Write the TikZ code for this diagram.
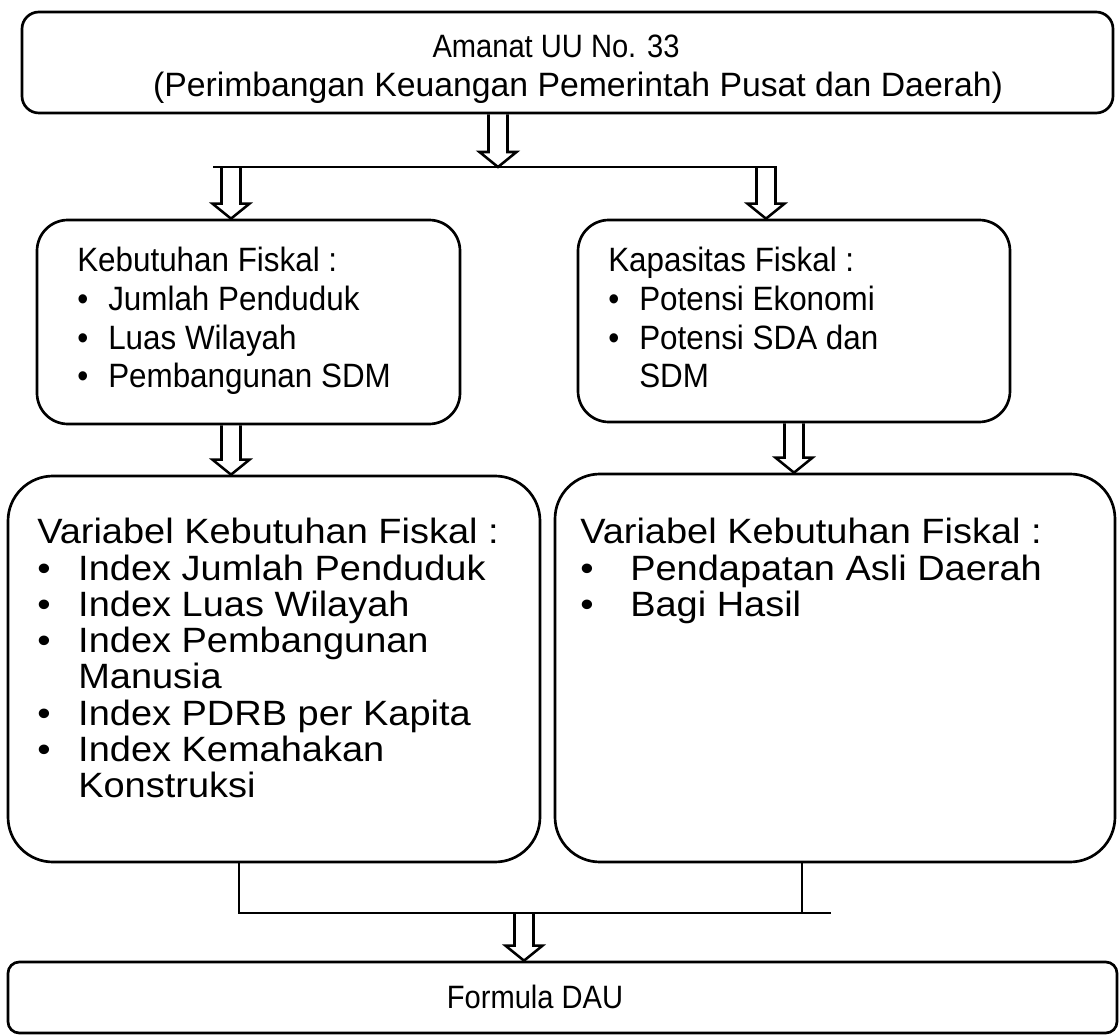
\documentclass[tikz,border=0pt]{standalone}
\usepackage{fontspec}
\setmainfont[FakeStretch=0.9]{Liberation Sans}
\newfontfamily\midface[FakeStretch=0.93]{Liberation Sans}
\newfontfamily\plainface[FakeStretch=1.0]{Liberation Sans}
\newfontfamily\wideface[FakeStretch=1.08]{Liberation Sans}
\usepackage{tikz}
\usetikzlibrary{positioning, fit, calc}

% hollow block arrow pointing down, from #1 to #2
\newcommand{\downarr}[2]{%
  \draw[hollow_arrow] ($(#1)+(-9.5,0)$) -- ($(#2)+(-9.5,-15)$) -- ($(#2)+(-18.5,-15)$)
    -- (#2) -- ($(#2)+(18.5,-15)$) -- ($(#2)+(9.5,-15)$) -- ($(#1)+(9.5,0)$);}
\newcommand{\itm}[2][31]{\makebox[#1\unitlength][l]{\textbullet}#2}
\newcommand{\cnt}[2][31]{\hspace*{#1\unitlength}#2}

\begin{document}
\setlength{\unitlength}{0.025cm}
\begin{tikzpicture}[
    x=0.025cm, y=-0.025cm,
    % Styles
    box/.style={
      rectangle, draw, line width=1.9pt, inner sep=0pt
    },
    hollow_arrow/.style={
      line width=1.8pt, line join=miter
    },
    link/.style={
      line width=1.9pt
    },
    need_text/.style={
      anchor=north west, inner sep=0pt, align=left,
      font=\midface\fontsize{24}{27.5}\selectfont
    },
    var_text/.style={
      anchor=north west, inner sep=0pt, align=left,
      font=\wideface\fontsize{25}{25.8}\selectfont
    }
  ]
  \useasboundingbox (0,0) rectangle (1120,1036);

  % --- 1. NODES ---

  % Amanat box
  \node[box, rounded corners=12pt, fit={(22,12) (1113,113)}] (amanat) {};
  \node[font=\fontsize{23}{26}\selectfont, anchor=base] (amanat_t1) at (556,58) {Amanat UU No. 33};
  \node[font=\fontsize{24}{26}\selectfont\plainface, anchor=base] (amanat_t2) at (578,97) {(Perimbangan Keuangan Pemerintah Pusat dan Daerah)};

  % Fiscal needs / capacity
  \node[box, rounded corners=22pt, fit={(37,220) (460,424)}] (keb) {};
  \node[need_text] (keb_text) at (77,247) {Kebutuhan Fiskal :\\
    \itm{Jumlah Penduduk}\\
    \itm{Luas Wilayah}\\
    \itm{Pembangunan SDM}};

  \node[box, rounded corners=22pt, fit={(578,220) (1010,422)}] (kap) {};
  \node[need_text] (kap_text) at (608,247) {Kapasitas Fiskal :\\
    \itm{Potensi Ekonomi}\\
    \itm{Potensi SDA dan}\\
    \cnt{SDM}};

  % Variables
  \node[box, rounded corners=32pt, fit={(8,476) (540,862)}] (varkeb) {};
  \node[var_text] (varkeb_text) at (37,518) {Variabel Kebutuhan Fiskal :\\
    \itm[41]{Index Jumlah Penduduk}\\
    \itm[41]{Index Luas Wilayah}\\
    \itm[41]{Index Pembangunan}\\
    \cnt[41]{Manusia}\\
    \itm[41]{Index PDRB per Kapita}\\
    \itm[41]{Index Kemahakan}\\
    \cnt[41]{Konstruksi}};

  \node[box, rounded corners=32pt, fit={(555,474) (1115,862)}] (varkap) {};
  \node[var_text] (varkap_text) at (580,518) {Variabel Kebutuhan Fiskal :\\
    \itm[50]{Pendapatan Asli Daerah}\\
    \itm[50]{Bagi Hasil}};

  % Formula
  \node[box, rounded corners=8pt, fit={(8,962) (1117,1033)}] (dau) {};
  \node[font=\fontsize{23}{26}\selectfont, anchor=base] (dau_text) at (535,1008) {Formula DAU};

  % helper points
  \coordinate (split) at (498,167);
  \coordinate (splitL) at (213,167);
  \coordinate (splitR) at (777,167);
  \coordinate (colL) at (231,167);
  \coordinate (colR) at (766,167);
  \coordinate (joinL) at (239,913);
  \coordinate (joinR) at (802,913);
  \coordinate (joinE) at (831,913);
  \coordinate (join) at (524,913);

  % --- 2. EDGES ---

  \downarr{amanat.south -| split}{split}
  \draw[link] (splitL) -- (splitR);
  \downarr{colL}{colL |- keb.north}
  \downarr{colR}{colR |- kap.north}

  \downarr{keb.south -| colL}{varkeb.north -| colL}
  \downarr{kap.south}{kap.south |- varkap.north}

  % merge both variable boxes
  \draw[link] (joinL |- varkeb.south) -- (joinL) -- (joinE);
  \draw[link] (joinR |- varkap.south) -- (joinR);
  \downarr{join}{join |- dau.north}

\end{tikzpicture}
\end{document}
